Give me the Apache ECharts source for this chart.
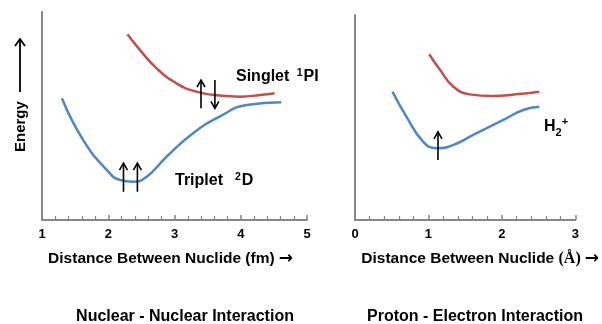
<!DOCTYPE html>
<html>
<head>
<meta charset="utf-8">
<script src="https://cdn.jsdelivr.net/npm/echarts@6/dist/echarts.min.js"></script>
<style>
  html, body { margin: 0; padding: 0; background: #fff; }
  #main { width: 602px; height: 324px; }
</style>
</head>
<body>
<div id="main"></div>
<script>
// nuclear - nuclear (left panel), x in fm, y is a relative energy (no scale shown)
let tripletX = [1.30, 1.62, 1.98, 2.18, 2.38, 2.58, 2.88, 3.28, 3.68, 4.09, 4.61]
let tripletY = [5.85, 3.85, 2.40, 1.92, 1.84, 2.08, 3.04, 4.17, 4.97, 5.53, 5.66]
let singletX = [2.29, 2.48, 2.73, 3.03, 3.33, 3.68, 3.99, 4.29, 4.51]
let singletY = [8.93, 8.17, 7.29, 6.57, 6.17, 5.98, 5.93, 6.01, 6.09]

// proton - electron (right panel), x in angstrom
let h2LowX = [0.51, 0.70, 0.93, 1.11, 1.34, 1.61, 2.02, 2.29, 2.51]
let h2LowY = [6.17, 4.97, 3.76, 3.45, 3.61, 4.09, 4.81, 5.29, 5.45]
let h2HighX = [1.01, 1.16, 1.34, 1.56, 1.88, 2.19, 2.51]
let h2HighY = [7.97, 7.21, 6.41, 6.04, 5.96, 6.04, 6.17]

// spin arrows: x, from y, to y
let leftArrows = [[2.23, 1.36, 2.73], [2.44, 1.36, 2.73], [3.40, 5.37, 6.73], [3.61, 6.73, 5.37]]
let rightArrows = [[1.13, 2.88, 4.24]]

let xRangeLeft = [1, 5]
let xRangeRight = [0, 3]

const font = 'Liberation Sans, Arial, DejaVu Sans, sans-serif'
const blue = '#4f86c6'
const red = '#c0504d'
const axisGray = '#868686'

function zip(xs, ys) {
  return xs.map((x, i) => [x, ys[i]])
}

function arrowSeries(arrows, idx) {
  return {
    type: 'custom',
    xAxisIndex: idx,
    yAxisIndex: idx,
    data: arrows,
    z: 5,
    renderItem: function (params, api) {
      let p0 = api.coord([api.value(0), api.value(1)])
      let p1 = api.coord([api.value(0), api.value(2)])
      let dir = p1[1] < p0[1] ? 1 : -1
      let hx = 4, hy = 7 * dir
      return {
        type: 'group',
        children: [
          { type: 'line', shape: { x1: p0[0], y1: p0[1], x2: p1[0], y2: p1[1] },
            style: { stroke: '#000', lineWidth: 1.6 } },
          { type: 'polyline', shape: { points: [[p1[0] - hx, p1[1] + hy], [p1[0], p1[1]], [p1[0] + hx, p1[1] + hy]] },
            style: { stroke: '#000', fill: null, lineWidth: 1.6 } }
        ]
      }
    }
  }
}

function xAxisFor(idx, range, name, pad) {
  return {
    type: 'value',
    gridIndex: idx,
    min: range[0],
    max: range[1],
    interval: 1,
    axisLine: { lineStyle: { color: axisGray, width: 2 } },
    axisTick: { show: true, inside: true, length: 5, lineStyle: { color: axisGray, width: 1.5 } },
    minorTick: { show: true, splitNumber: 5, length: 4, lineStyle: { color: axisGray, width: 1.2 } },
    splitLine: { show: false },
    axisLabel: { margin: 8, color: '#000', fontFamily: font, fontWeight: 'bold', fontSize: 13 },
    name: name,
    nameLocation: 'middle',
    nameGap: 30,
    nameTextStyle: {
      padding: pad,
      color: '#000', fontFamily: font, fontWeight: 'bold', fontSize: 15.5,
      rich: {
        s: { fontFamily: 'Liberation Serif, DejaVu Serif, serif', fontSize: 16, fontWeight: 'bold', color: '#000' },
        a: { fontFamily: 'DejaVu Sans, sans-serif', fontSize: 17, color: '#000', padding: [0, 0, 0, 4] }
      }
    }
  }
}

function yAxisFor(idx, max) {
  return {
    type: 'value',
    gridIndex: idx,
    min: 0,
    max: max,
    axisLine: { show: true, lineStyle: { color: axisGray, width: 2 } },
    axisTick: { show: false },
    axisLabel: { show: false },
    splitLine: { show: false }
  }
}

function curve(idx, data, color) {
  return {
    type: 'line',
    xAxisIndex: idx,
    yAxisIndex: idx,
    data: data,
    smooth: true,
    symbol: 'none',
    lineStyle: { color: color, width: 2.5 }
  }
}

let chart = echarts.init(document.getElementById('main'))

let titleStyle = { fontFamily: font, fontWeight: 'bold', fontSize: 16, color: '#000' }

let option = {
  backgroundColor: '#fff',
  animation: false,
  title: [
    { text: 'Nuclear - Nuclear Interaction', left: 180, top: 304, textAlign: 'center', textStyle: titleStyle },
    { text: 'Proton - Electron Interaction', left: 470, top: 304, textAlign: 'center', textStyle: titleStyle }
  ],
  grid: [
    { left: 42, top: 12, width: 265, height: 208 },
    { left: 355, top: 15, width: 221, height: 205 }
  ],
  xAxis: [
    xAxisFor(0, xRangeLeft, 'Distance Between Nuclide (fm){a|→}', [0, 8, 0, 0]),
    xAxisFor(1, xRangeRight, 'Distance Between Nuclide {s|(Å)}{a|→}', [0, 0, 0, 30])
  ],
  yAxis: [
    yAxisFor(0, 10),
    yAxisFor(1, 205 / 20.8)
  ],
  series: [
    curve(0, zip(tripletX, tripletY), blue),
    curve(0, zip(singletX, singletY), red),
    curve(1, zip(h2LowX, h2LowY), blue),
    curve(1, zip(h2HighX, h2HighY), red),
    arrowSeries(leftArrows, 0),
    arrowSeries(rightArrows, 1)
  ],
  graphic: [
    // energy label with arrow
    { type: 'text', x: 13, y: 152, rotation: Math.PI / 2,
      style: { text: 'Energy', fontFamily: font, fontWeight: 'bold', fontSize: 15, fill: '#000' } },
    { type: 'line', shape: { x1: 20, y1: 92, x2: 20, y2: 39 }, style: { stroke: '#000', lineWidth: 1.8 } },
    { type: 'polyline', shape: { points: [[15, 46], [20, 39], [25, 46]] }, style: { stroke: '#000', fill: null, lineWidth: 1.8 } },
    { type: 'text', x: 236, y: 66,
      style: { text: '{a|Singlet }{s|1}{a|PI}', fontFamily: font,
        rich: {
          a: { fontFamily: font, fontWeight: 'bold', fontSize: 16, color: '#000', lineHeight: 19, verticalAlign: 'bottom' },
          s: { fontFamily: font, fontWeight: 'bold', fontSize: 10.5, color: '#000', lineHeight: 19, verticalAlign: 'top', padding: [2, 1, 0, 3] }
        } } },
    { type: 'text', x: 175, y: 170,
      style: { text: '{a|Triplet  }{s|2}{a|D}', fontFamily: font,
        rich: {
          a: { fontFamily: font, fontWeight: 'bold', fontSize: 16, color: '#000', lineHeight: 19, verticalAlign: 'bottom' },
          s: { fontFamily: font, fontWeight: 'bold', fontSize: 10.5, color: '#000', lineHeight: 19, verticalAlign: 'top', padding: [2, 1, 0, 3] }
        } } },
    { type: 'text', x: 544, y: 116,
      style: { text: '{a|H}{b|2}{s|+}', fontFamily: font,
        rich: {
          a: { fontFamily: font, fontWeight: 'bold', fontSize: 16, color: '#000', lineHeight: 22, verticalAlign: 'middle' },
          b: { fontFamily: font, fontWeight: 'bold', fontSize: 11, color: '#000', lineHeight: 22, verticalAlign: 'bottom' },
          s: { fontFamily: font, fontWeight: 'bold', fontSize: 11, color: '#000', lineHeight: 22, verticalAlign: 'top' }
        } } }
  ]
}

chart.setOption(option)
</script>
</body>
</html>
